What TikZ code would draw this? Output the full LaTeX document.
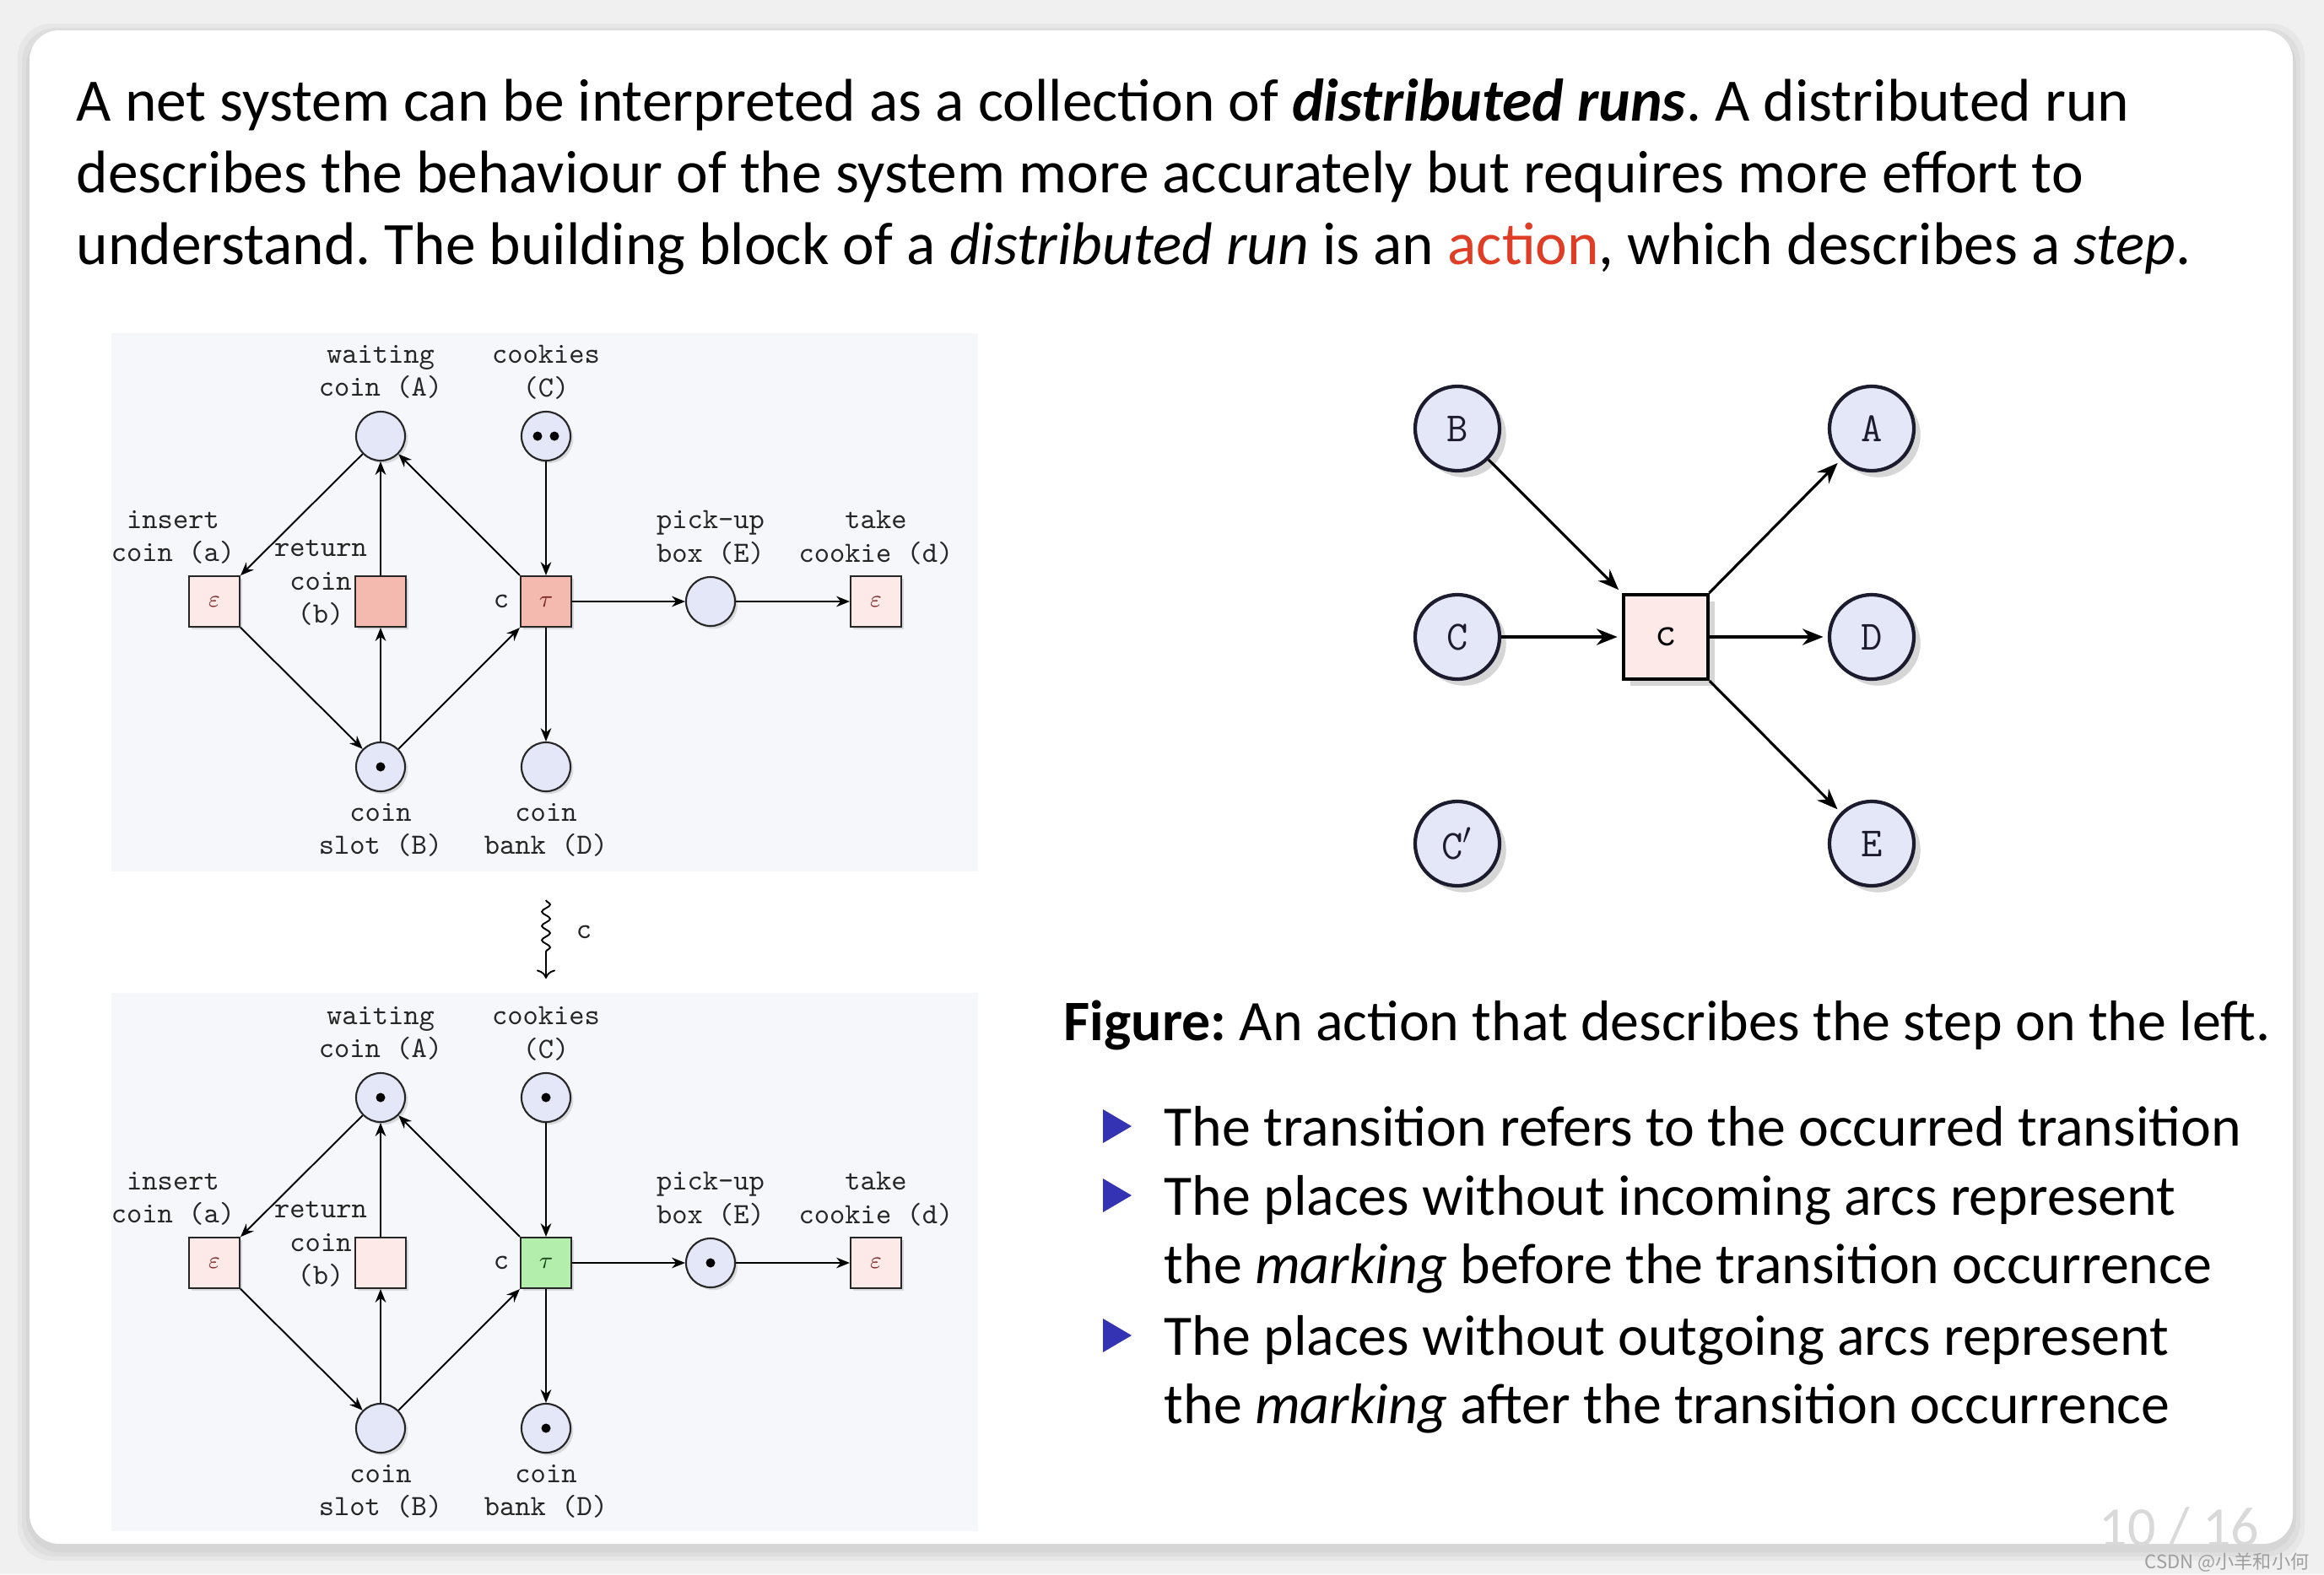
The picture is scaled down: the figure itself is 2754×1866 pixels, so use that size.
\documentclass[tikz,border=0pt]{standalone}
\usepackage{fontspec}
\setmainfont{Carlito}
\newfontfamily\cjkfont{Noto Sans CJK SC}
\usetikzlibrary{arrows.meta,shadows,decorations.pathmorphing}
\definecolor{placefill}{RGB}{228,231,248}
\definecolor{epsfill}{RGB}{253,233,231}
\definecolor{firedfill}{RGB}{244,186,176}
\definecolor{greenfill}{RGB}{180,238,172}
\definecolor{panelbg}{RGB}{245,247,251}
\definecolor{alertred}{RGB}{222,62,38}
\definecolor{bulletblue}{RGB}{51,51,179}
\definecolor{labelred}{RGB}{125,40,40}
\definecolor{labelgreen}{RGB}{25,70,25}
\definecolor{rimdark}{RGB}{28,28,46}
\frenchspacing

\begin{document}
\begin{tikzpicture}[x=0.01cm, y=-0.01cm, >=Stealth,
    netplace/.style={circle, draw=black!85, line width=0.6pt, fill=placefill, minimum size=0.58cm, inner sep=0pt,
        drop shadow={shadow xshift=0.9pt, shadow yshift=-0.9pt, opacity=0.25}},
    nettrans/.style={rectangle, draw=black!85, line width=0.6pt, minimum size=0.6cm, inner sep=0pt, text=labelred,
        font=\footnotesize, drop shadow={shadow xshift=0.9pt, shadow yshift=-0.9pt, opacity=0.25}},
    netlbl/.style={font=\ttfamily\fontsize{9.9}{11.3}\selectfont, align=center, inner sep=0pt, text=black!85},
    netarc/.style={-{Stealth[length=4.5pt,width=3.6pt]}, line width=0.55pt},
    actplace/.style={circle, draw=rimdark, line width=1.2pt, fill=placefill, minimum size=1cm, inner sep=0pt,
        text=rimdark, font=\ttfamily\fontsize{14}{15}\selectfont,
        drop shadow={shadow xshift=2.2pt, shadow yshift=-2.2pt, opacity=0.32}},
    actbox/.style={rectangle, draw=black, line width=1.2pt, fill=epsfill, minimum size=1cm, inner sep=0pt,
        font=\ttfamily\fontsize{14}{15}\selectfont, drop shadow={shadow xshift=2.2pt, shadow yshift=-2.2pt, opacity=0.32}},
    actarc/.style={-{Stealth[length=7pt,width=5.5pt]}, line width=0.9pt, shorten >=1.5pt},
    bodytext/.style={anchor=base west, inner sep=0pt, font=\fontsize{19.3}{22}\selectfont},
    headtext/.style={anchor=base west, inner sep=0pt, font=\fontsize{20.3}{24}\selectfont}]

    \useasboundingbox (0,0) rectangle (2754,1866);
    \fill[gray!12] (0,0) rectangle (2754,1866);
    \foreach \s in {14,9,4}
        \fill[black, opacity=0.035, rounded corners=0.4cm] (35-\s,42-\s) rectangle (2717+\s,1836+\s);
    \fill[white, rounded corners=0.35cm] (35,36) rectangle (2717,1830);

    \begin{scope}
        \clip[rounded corners=0.35cm] (35,36) rectangle (2717,1830);
        \node[anchor=base west, inner sep=0pt, text depth=0pt, text=gray!30, font=\fontsize{18.8}{20}\selectfont] (pgno) at (2487,1832) {10 / 16};
    \end{scope}
    \node[anchor=base east, inner sep=0pt, text=gray!75, font=\cjkfont\fontsize{6.3}{7}\selectfont] (mark) at (2737,1859) {CSDN @小羊和小何};

    \node[headtext] (hl1) at (90,143)
        {A net system can be interpreted as a collection of \textbf{\textit{distributed runs}}. A distributed run};
    \node[headtext] (hl2) at (90,228)
        {describes the behaviour of the system more accurately but requires more effort to};
    \node[headtext] (hl3) at (90,313)
        {understand. The building block of a \textit{distributed run} is an \textcolor{alertred}{action}, which describes a \textit{step}.};

    \fill[panelbg] (132,395) rectangle (1159,1033);
    \fill[panelbg] (132,1177) rectangle (1159,1815);

    % net before the step
    \node[netplace] (pA) at (451,517) {};
    \node[netplace] (pC) at (647,517) {};
    \node[nettrans, fill=epsfill] (ta) at (254,713) {$\varepsilon$};
    \node[nettrans, fill=firedfill] (tb) at (451,713) {};
    \node[nettrans, fill=firedfill] (tc) at (647,713) {$\tau$};
    \node[netplace] (pE) at (842,713) {};
    \node[nettrans, fill=epsfill] (td) at (1038,713) {$\varepsilon$};
    \node[netplace] (pB) at (451,909) {};
    \node[netplace] (pD) at (647,909) {};
    \fill ([xshift=-0.1cm]pC.center) circle (0.055cm);
    \fill ([xshift=0.1cm]pC.center) circle (0.055cm);
    \fill (pB) circle (0.055cm);

    \node[netlbl] (lA) at (451,441) {waiting\\coin (A)};
    \node[netlbl] (lC) at (647,441) {cookies\\(C)};
    \node[netlbl] (la) at (205,637) {insert\\coin (a)};
    \node[netlbl] (lb) at (380,691) {return\\coin\\(b)};
    \node[netlbl] (lc) at (594,713) {c};
    \node[netlbl] (lE) at (842,637) {pick-up\\box (E)};
    \node[netlbl] (ld) at (1038,637) {take\\cookie (d)};
    \node[netlbl] (lB) at (451,984) {coin\\slot (B)};
    \node[netlbl] (lD) at (647,984) {coin\\bank (D)};

    \draw[netarc] (pA) -- (ta);
    \draw[netarc] (ta) -- (pB);
    \draw[netarc] (pB) -- (tb);
    \draw[netarc] (tb) -- (pA);
    \draw[netarc] (pB) -- (tc);
    \draw[netarc] (tc) -- (pA);
    \draw[netarc] (pC) -- (tc);
    \draw[netarc] (tc) -- (pD);
    \draw[netarc] (tc) -- (pE);
    \draw[netarc] (pE) -- (td);

    % the step
    \coordinate (sq1) at (647,1067);
    \coordinate (sq2) at (647,1160);
    \draw[decorate, decoration={snake, amplitude=1.4pt, segment length=4.8pt, post length=7pt},
        -{To[length=3pt]}, line width=0.55pt] (sq1) -- (sq2);
    \node[netlbl] (lstep) at (692,1105) {c};

    % net after the step
    \begin{scope}[shift={(0,784)}]
        \node[netplace] (pA2) at (451,517) {};
        \node[netplace] (pC2) at (647,517) {};
        \node[nettrans, fill=epsfill] (ta2) at (254,713) {$\varepsilon$};
        \node[nettrans, fill=epsfill] (tb2) at (451,713) {};
        \node[nettrans, fill=greenfill, text=labelgreen] (tc2) at (647,713) {$\tau$};
        \node[netplace] (pE2) at (842,713) {};
        \node[nettrans, fill=epsfill] (td2) at (1038,713) {$\varepsilon$};
        \node[netplace] (pB2) at (451,909) {};
        \node[netplace] (pD2) at (647,909) {};
        \fill (pA2) circle (0.055cm);
        \fill (pC2) circle (0.055cm);
        \fill (pE2) circle (0.055cm);
        \fill (pD2) circle (0.055cm);

        \node[netlbl] (lA2) at (451,441) {waiting\\coin (A)};
        \node[netlbl] (lC2) at (647,441) {cookies\\(C)};
        \node[netlbl] (la2) at (205,637) {insert\\coin (a)};
        \node[netlbl] (lb2) at (380,691) {return\\coin\\(b)};
        \node[netlbl] (lc2) at (594,713) {c};
        \node[netlbl] (lE2) at (842,637) {pick-up\\box (E)};
        \node[netlbl] (ld2) at (1038,637) {take\\cookie (d)};
        \node[netlbl] (lB2) at (451,984) {coin\\slot (B)};
        \node[netlbl] (lD2) at (647,984) {coin\\bank (D)};

        \draw[netarc] (pA2) -- (ta2);
        \draw[netarc] (ta2) -- (pB2);
        \draw[netarc] (pB2) -- (tb2);
        \draw[netarc] (tb2) -- (pA2);
        \draw[netarc] (pB2) -- (tc2);
        \draw[netarc] (tc2) -- (pA2);
        \draw[netarc] (pC2) -- (tc2);
        \draw[netarc] (tc2) -- (pD2);
        \draw[netarc] (tc2) -- (pE2);
        \draw[netarc] (pE2) -- (td2);
    \end{scope}

    % the action
    \node[actplace] (qB) at (1727,508) {B};
    \node[actplace] (qA) at (2218,508) {A};
    \node[actplace] (qC) at (1727,755) {C};
    \node[actbox] (act) at (1974,755) {c};
    \node[actplace] (qD) at (2218,755) {D};
    \node[actplace] (qC2) at (1727,1000) {C$'$};
    \node[actplace] (qE) at (2218,1000) {E};

    \draw[actarc] (qB) -- (act);
    \draw[actarc] (qC) -- (act);
    \draw[actarc] (act) -- (qA);
    \draw[actarc] (act) -- (qD);
    \draw[actarc] (act) -- (qE);

    \node[bodytext] (cap) at (1260,1233)
        {\textbf{Figure:} An action that describes the step on the left.};
    \foreach \b in {1358,1440,1606}
        \fill[bulletblue] (1307,\b-43) -- (1307,\b-3) -- (1341,\b-23) -- cycle;
    \node[bodytext] (it1) at (1379,1358) {The transition refers to the occurred transition};
    \node[bodytext] (it2) at (1379,1440) {The places without incoming arcs represent};
    \node[bodytext] (it2b) at (1379,1521) {the \textit{marking} before the transition occurrence};
    \node[bodytext] (it3) at (1379,1606) {The places without outgoing arcs represent};
    \node[bodytext] (it3b) at (1379,1687) {the \textit{marking} after the transition occurrence};
\end{tikzpicture}
\end{document}
